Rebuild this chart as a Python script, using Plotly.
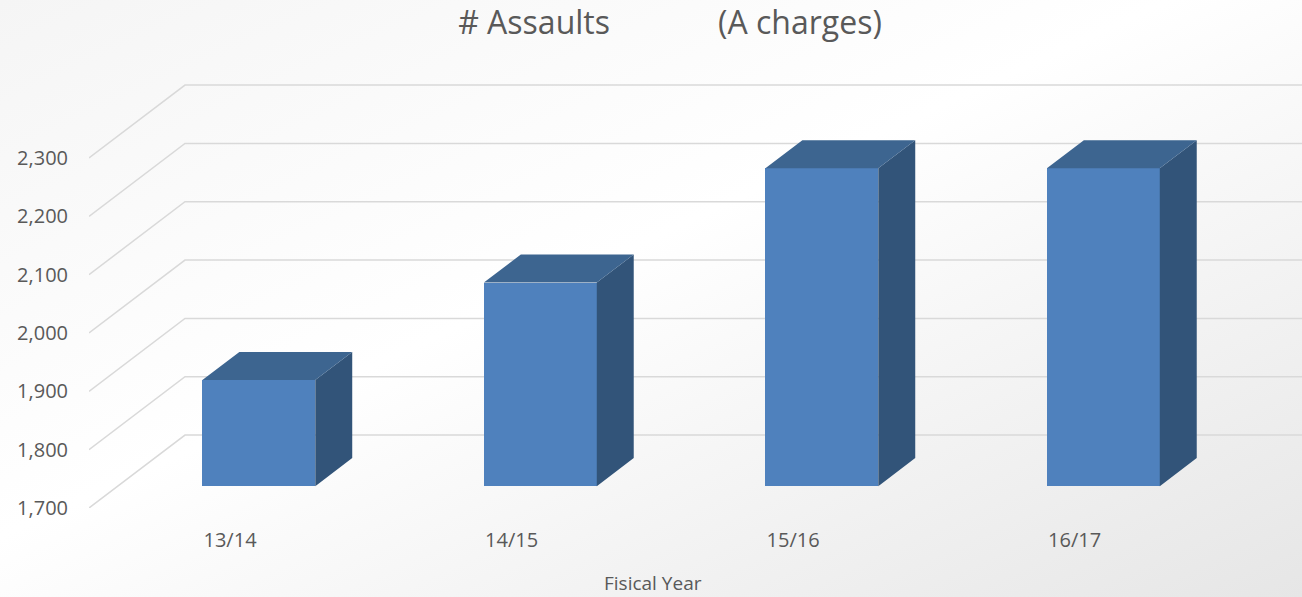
"""3D-style column chart: assaults (A charges) by fiscal year."""
import base64

import plotly.graph_objects as go

years = ["13/14", "14/15", "15/16", "16/17"]
assaults = [1882, 2049, 2245, 2245]
y_ticks = [1700, 1800, 1900, 2000, 2100, 2200, 2300]
y_tick_text = [f"{v:,}" for v in y_ticks]

# fake depth: full wall offset in axis units, and where the bars sit within it
DX, DY = 0.341, 125.0
F0, F1 = 0.30, 0.685
BAR_W = 0.401
X_RANGE = [-0.501, 3.808]
Y_RANGE = [1700, 2468]

FRONT = "#4F81BD"
TOP = "#3D6590"
SIDE = "#325479"
GRID = "#d9d9d9"
TEXT = "#595959"
FONT = "Open Sans"

bg_svg = (
    '<svg xmlns="http://www.w3.org/2000/svg" width="1302" height="597">'
    '<defs><linearGradient id="g" x1="0" y1="0" x2="1" y2="1">'
    '<stop offset="0" stop-color="#f5f5f5"/><stop offset="0.45" stop-color="#ffffff"/>'
    '<stop offset="1" stop-color="#e6e6e6"/></linearGradient></defs>'
    '<rect width="1302" height="597" fill="url(#g)"/></svg>'
)
bg_uri = "data:image/svg+xml;base64," + base64.b64encode(bg_svg.encode()).decode()

# gridlines: diagonal along the left wall, then straight across the back wall
grid_shapes = []
for t in y_ticks:
    x0 = X_RANGE[0]
    grid_shapes.append(dict(
        type="path", xref="x", yref="y", layer="below",
        path=f"M {x0},{t} L {x0 + DX},{t + DY} L {X_RANGE[1] + 1},{t + DY}",
        line=dict(color=GRID, width=1.5),
    ))

fig = go.Figure()

base = Y_RANGE[0]
sx, sy, tx, ty = [], [], [], []
for i, v in enumerate(assaults):
    xl = i + F0 * DX - BAR_W / 2
    xr = xl + BAR_W
    ddx, ddy = (F1 - F0) * DX, (F1 - F0) * DY
    b0, v0 = base + F0 * DY, v + F0 * DY
    sx += [xr, xr, xr + ddx, xr + ddx, xr, None]
    sy += [b0, v0, v0 + ddy, b0 + ddy, b0, None]
    tx += [xl, xr, xr + ddx, xl + ddx, xl, None]
    ty += [v0, v0, v0 + ddy, v0 + ddy, v0, None]

fig.add_trace(go.Bar(
    x=[i + F0 * DX for i in range(len(years))],
    y=[v - base for v in assaults],
    base=base + F0 * DY,
    width=BAR_W,
    marker=dict(color=FRONT, line=dict(width=0)),
    hovertext=[f"{c}: {v:,}" for c, v in zip(years, assaults)],
    hoverinfo="text",
    showlegend=False,
))
fig.add_trace(go.Scatter(x=sx, y=sy, mode="lines", fill="toself", fillcolor=SIDE,
                         line=dict(width=0, color=SIDE), hoverinfo="skip", showlegend=False))
fig.add_trace(go.Scatter(x=tx, y=ty, mode="lines", fill="toself", fillcolor=TOP,
                         line=dict(width=0, color=TOP), hoverinfo="skip", showlegend=False))

fig.update_layout(
    width=1302,
    height=597,
    margin=dict(l=89, r=0, t=60, b=89),
    paper_bgcolor="white",
    plot_bgcolor="rgba(0,0,0,0)",
    font=dict(family=FONT, color=TEXT),
    title=dict(
        text="# Assaults" + "\u00a0" * 13 + "(A charges)",
        x=670 / 1302, xref="container", xanchor="center",
        y=1 - 23 / 597, yref="container", yanchor="middle",
        font=dict(size=32, color=TEXT, family=FONT),
    ),
    xaxis=dict(
        range=X_RANGE, showgrid=False, zeroline=False, showline=False,
        tickvals=list(range(len(years))), ticktext=years, ticks="",
        ticklabelstandoff=18, tickfont=dict(size=20, color=TEXT),
    ),
    yaxis=dict(
        range=Y_RANGE, showgrid=False, zeroline=False, showline=False,
        tickvals=y_ticks, ticktext=y_tick_text, ticks="",
        ticklabelstandoff=20, tickfont=dict(size=20, color=TEXT),
    ),
    shapes=grid_shapes,
    images=[dict(
        source=bg_uri, xref="paper", yref="paper",
        x=-89 / 1213, y=1 + 60 / 448, sizex=1302 / 1213, sizey=597 / 448,
        xanchor="left", yanchor="top", sizing="stretch", layer="below",
    )],
    annotations=[dict(
        text="Fisical Year", xref="paper", yref="paper",
        x=(653 - 89) / 1213, y=-(583 - 508) / 448,
        xanchor="center", yanchor="middle",
        showarrow=False, font=dict(size=19, color=TEXT),
    )],
    bargap=0,
)

fig.write_html("out.html", config={"displayModeBar": False},
               post_script="document.body.style.margin='0';")
